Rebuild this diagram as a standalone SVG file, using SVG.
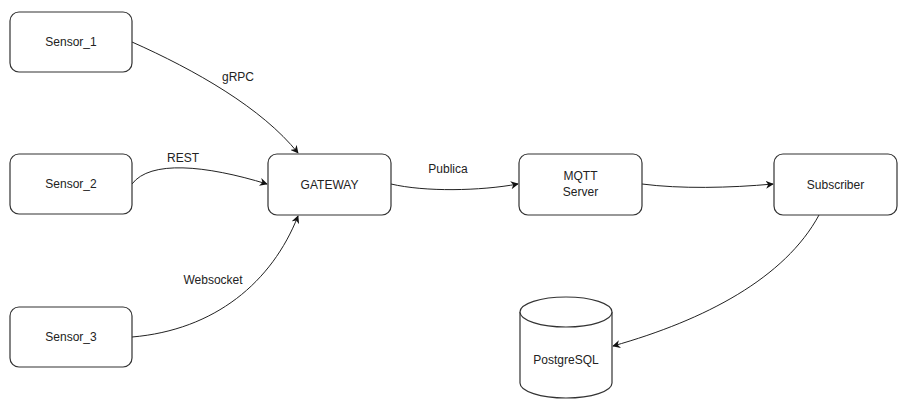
<svg xmlns="http://www.w3.org/2000/svg" width="906" height="403" viewBox="0 0 906 403">
<defs>
<style>
.box{fill:#fff;stroke:#333;stroke-width:1.2}
.t{font-family:"Liberation Sans",Arial,sans-serif;font-size:12px;fill:#222;text-anchor:middle;dominant-baseline:central}
.e{fill:none;stroke:#222;stroke-width:1}
</style>
<marker id="arr" viewBox="0 0 10 10" refX="9" refY="5" markerWidth="8" markerHeight="8" orient="auto" markerUnits="userSpaceOnUse">
<path d="M0,0 L10,5 L0,10 L3,5 z" fill="#111"/>
</marker>
</defs>
<rect width="906" height="403" fill="#fff"/>
<g id="connectors">
<path class="e" d="M132,42 C195,70 262,108 298,153" marker-end="url(#arr)"/>
<path class="e" d="M132,184 C150,160 205,165 267,184" marker-end="url(#arr)"/>
<path class="e" d="M132,337 C215,330 272,282 298,216" marker-end="url(#arr)"/>
<path class="e" d="M391,184 C425,192 480,191 518,184" marker-end="url(#arr)"/>
<path class="e" d="M642,184 C680,189 730,188 773,184" marker-end="url(#arr)"/>
<path class="e" d="M819,215 C785,278 705,320 613,346" marker-end="url(#arr)"/>
<text class="t" x="238" y="77">gRPC</text>
<text class="t" x="183" y="158">REST</text>
<text class="t" x="213" y="280">Websocket</text>
<text class="t" x="448" y="169">Publica</text>
</g>
<g id="sensor1"><rect class="box" x="10" y="12" width="122" height="60" rx="9"/><text class="t" x="71" y="42">Sensor_1</text></g>
<g id="sensor2"><rect class="box" x="10" y="154" width="122" height="60" rx="9"/><text class="t" x="71" y="184">Sensor_2</text></g>
<g id="sensor3"><rect class="box" x="10" y="307" width="122" height="60" rx="9"/><text class="t" x="71" y="337">Sensor_3</text></g>
<g id="gateway"><rect class="box" x="268" y="154" width="123" height="61" rx="9"/><text class="t" x="329.5" y="184.5">GATEWAY</text></g>
<g id="mqtt"><rect class="box" x="519" y="154" width="123" height="61" rx="9"/><text class="t" x="580.5" y="176">MQTT</text><text class="t" x="580.5" y="192">Server</text></g>
<g id="subscriber"><rect class="box" x="774" y="154" width="123" height="61" rx="9"/><text class="t" x="835.5" y="184.5">Subscriber</text></g>
<g id="postgresql">
<path class="box" d="M520,312 A46,15 0 0,1 612,312 V383 A46,15 0 0,1 520,383 Z"/>
<path class="box" fill="none" d="M520,312 A46,15 0 0,0 612,312"/>
<text class="t" x="566" y="360">PostgreSQL</text>
</g>
</svg>
